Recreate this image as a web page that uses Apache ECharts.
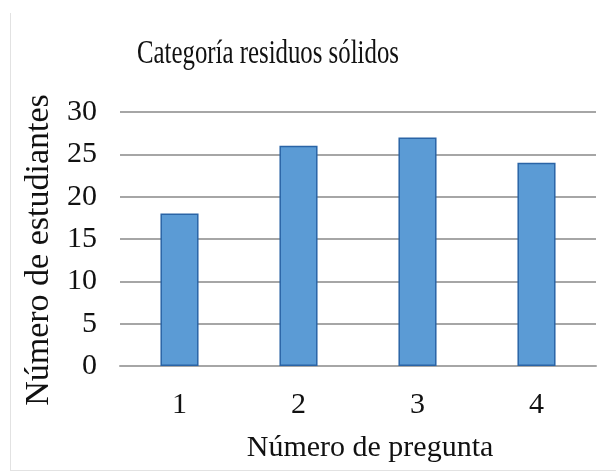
<!DOCTYPE html>
<html>
<head>
<meta charset="utf-8">
<script src="https://cdn.jsdelivr.net/npm/echarts@6/dist/echarts.min.js"></script>
<style>html,body{margin:0;padding:0;background:#fff;}#c{width:616px;height:472px;}</style>
</head>
<body>
<div id="c"></div>
<script>
const titleText = 'Categoría residuos sólidos';
const categories = ['1', '2', '3', '4'];
const values = [18, 26, 27, 24];
const yName = 'Número de estudiantes';
const xName = 'Número de pregunta';
const FONT = '"Liberation Serif", "Times New Roman", serif';

const chart = echarts.init(document.getElementById('c'), null, {renderer: 'canvas'});
chart.setOption({
  backgroundColor: '#ffffff',
  animation: false,
  grid: {left: 120, right: 20, top: 112, bottom: 106, containLabel: false},
  xAxis: {
    type: 'category',
    data: categories,
    name: xName,
    nameLocation: 'middle',
    nameGap: 67,
    nameTextStyle: {fontFamily: FONT, fontSize: 30, color: '#111', padding: [0, 0, 0, 24]},
    axisLine: {show: true, lineStyle: {color: '#a6a6a6', width: 2}},
    axisTick: {show: false},
    axisLabel: {fontFamily: FONT, fontSize: 30, color: '#111', margin: 24}
  },
  yAxis: {
    type: 'value',
    min: 0,
    max: 30,
    interval: 5,
    name: yName,
    nameLocation: 'middle',
    nameGap: 64,
    nameRotate: 90,
    nameTextStyle: {fontFamily: FONT, fontSize: 34, color: '#111', padding: [0, 22, 0, 0]},
    axisLine: {show: false},
    axisTick: {show: false},
    axisLabel: {fontFamily: FONT, fontSize: 30, color: '#111', margin: 23},
    splitLine: {show: true, lineStyle: {color: '#a6a6a6', width: 2}}
  },
  series: [{
    type: 'bar',
    data: values,
    barWidth: '32%',
    itemStyle: {color: '#5b9bd5', borderColor: '#2a64a6', borderWidth: 1.5}
  }],
  graphic: [
    {type: 'text', x: 137, y: 37, scaleX: 0.73, scaleY: 1,
     style: {text: titleText, fontFamily: FONT, fontSize: 34, fill: '#111', textAlign: 'left', textVerticalAlign: 'top'}},
    {type: 'line', shape: {x1: 10.5, y1: 13, x2: 10.5, y2: 470}, style: {stroke: '#e2e2e2', lineWidth: 1}},
    {type: 'line', shape: {x1: 10, y1: 470.5, x2: 616, y2: 470.5}, style: {stroke: '#e2e2e2', lineWidth: 1}}
  ]
});
</script>
</body>
</html>
